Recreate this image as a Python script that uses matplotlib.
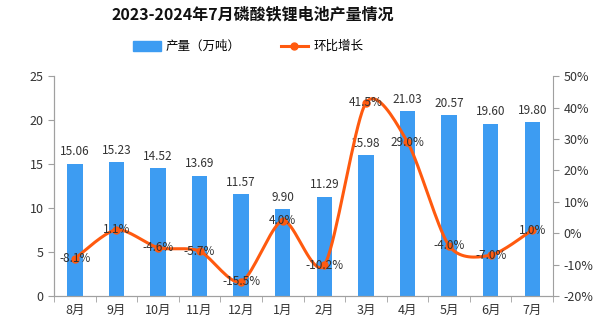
import numpy as np
import matplotlib
matplotlib.use("Agg")
import matplotlib.pyplot as plt
from matplotlib.lines import Line2D
from matplotlib.patches import Patch

plt.rcParams['font.family'] = ['Noto Sans CJK SC', 'DejaVu Sans']

months = ['8月', '9月', '10月', '11月', '12月', '1月', '2月', '3月', '4月', '5月', '6月', '7月']
output = [15.06, 15.23, 14.52, 13.69, 11.57, 9.90, 11.29, 15.98, 21.03, 20.57, 19.60, 19.80]
mom = [-8.1, 1.1, -4.6, -5.7, -15.5, 4.0, -10.2, 41.5, 29.0, -4.0, -7.0, 1.0]

bar_color = '#3d9cf2'
line_color = '#ff5a0f'
axis_color = '#a0a0a0'


def smooth(xs, ys, n=20):
    # catmull-rom curve through the points, only for drawing
    xs = np.asarray(xs, float)
    ys = np.asarray(ys, float)
    px = np.concatenate([[xs[0]], xs, [xs[-1]]])
    py = np.concatenate([[ys[0]], ys, [ys[-1]]])
    out_x, out_y = [], []
    t = np.linspace(0, 1, n)
    for i in range(1, len(px) - 2):
        for p, out in ((px, out_x), (py, out_y)):
            p0, p1, p2, p3 = p[i - 1], p[i], p[i + 1], p[i + 2]
            m1 = (p2 - p0) / 2 * 0.8
            m2 = (p3 - p1) / 2 * 0.8
            h00 = 2 * t**3 - 3 * t**2 + 1
            h10 = t**3 - 2 * t**2 + t
            h01 = -2 * t**3 + 3 * t**2
            h11 = t**3 - t**2
            out.extend(h00 * p1 + h10 * m1 + h01 * p2 + h11 * m2)
    return np.array(out_x), np.array(out_y)


fig = plt.figure(figsize=(6.01, 3.22), dpi=100)
ax = fig.add_axes([0.0899, 0.0807, 0.8303, 0.683])
ax2 = ax.twinx()

x = np.arange(len(months))
ax.bar(x, output, width=0.37, color=bar_color, zorder=2)
for xi, v in zip(x, output):
    ax.text(xi, v + 0.6, f'{v:.2f}', ha='center', va='bottom', fontsize=8.5, color='#333333')

sx, sy = smooth(x, mom)
ax2.plot(sx, sy, color=line_color, lw=2.2, zorder=3)
ax2.plot(x, mom, 'o', color=line_color, ms=5, zorder=4)
for xi, v in zip(x, mom):
    ax2.text(xi, v, f'{v:.1f}%', ha='center', va='center', fontsize=8.5, color='#333333', zorder=5)

ax.set_xlim(-0.5, len(months) - 0.5)
ax.set_ylim(0, 25)
ax.set_yticks(range(0, 26, 5))
ax2.set_ylim(-20, 50)
ax2.set_yticks(range(-20, 51, 10))
ax2.set_yticklabels([f'{v}%' for v in range(-20, 51, 10)])

ax.set_xticks(x)
ax.set_xticklabels(months)
ax.set_xticks(np.arange(-0.5, len(months), 1), minor=True)
ax.tick_params(axis='x', which='major', length=0, labelsize=9, colors='#333333', pad=6)
ax.tick_params(axis='x', which='minor', length=4, color=axis_color)
ax.tick_params(axis='y', length=4, color=axis_color, labelsize=9, labelcolor='#333333')
ax2.tick_params(axis='y', length=4, color=axis_color, labelsize=9, labelcolor='#333333')

for a in (ax, ax2):
    a.spines['top'].set_visible(False)
    for s in ('left', 'right', 'bottom'):
        a.spines[s].set_color(axis_color)
ax.spines['right'].set_visible(False)

fig.text(0.421, 0.955, '2023-2024年7月磷酸铁锂电池产量情况', ha='center', va='center',
         fontsize=11.5, fontweight='bold', color='#111111')

handles = [Patch(color=bar_color), Line2D([0], [0], color=line_color, lw=2.2, marker='o', ms=5)]
fig.legend(handles, ['产量（万吨）', '环比增长'], loc='center', bbox_to_anchor=(0.413, 0.855),
           ncol=2, frameon=False, fontsize=9, columnspacing=3.2, handlelength=2.2,
           handleheight=0.8, handletextpad=0.4)

fig.savefig('out.png', dpi=100)
